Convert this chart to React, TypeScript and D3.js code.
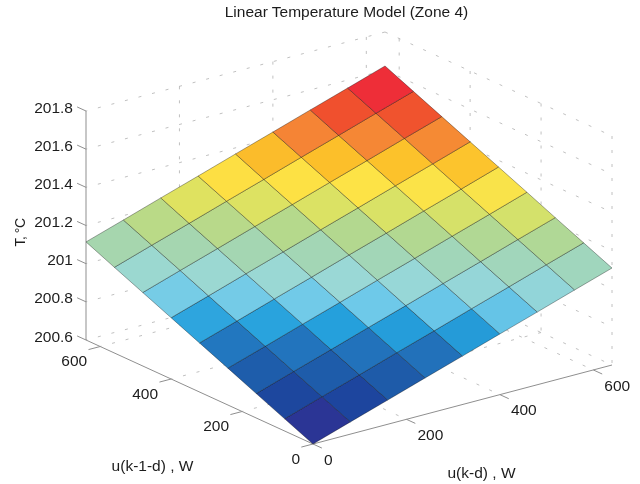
import React from 'react';
import * as d3 from 'd3';

const WIDTH = 640;
const HEIGHT = 484;

const title = 'Linear Temperature Model (Zone 4)';
const xLabel = 'u(k-d) , W';
const yLabel = 'u(k-1-d) , W';
const zLabel = 'T, °C';

const xTicks = [0, 200, 400, 600];
const yTicks = [0, 200, 400, 600];
const zTicks = [200.6, 200.8, 201, 201.2, 201.4, 201.6, 201.8];
const xMax = 640;
const yMax = 640;

// surface grid, both inputs
const gridX = [0, 80, 160, 240, 320, 400, 480, 560, 640];
const gridY = [0, 80, 160, 240, 320, 400, 480, 560, 640];

// temperature at each grid node, one row per gridY value
const surfaceZ = [
  [200.600, 200.664, 200.727, 200.791, 200.854, 200.918, 200.981, 201.045, 201.108],
  [200.664, 200.728, 200.791, 200.855, 200.918, 200.982, 201.045, 201.109, 201.172],
  [200.728, 200.792, 200.855, 200.919, 200.982, 201.046, 201.109, 201.173, 201.236],
  [200.793, 200.856, 200.920, 200.983, 201.047, 201.110, 201.174, 201.237, 201.301],
  [200.857, 200.920, 200.984, 201.047, 201.111, 201.174, 201.238, 201.301, 201.365],
  [200.921, 200.984, 201.048, 201.111, 201.175, 201.238, 201.302, 201.365, 201.429],
  [200.985, 201.049, 201.112, 201.176, 201.239, 201.303, 201.366, 201.430, 201.493],
  [201.049, 201.113, 201.176, 201.240, 201.303, 201.367, 201.430, 201.494, 201.557],
  [201.114, 201.177, 201.241, 201.304, 201.368, 201.431, 201.495, 201.558, 201.622],
];

// colour position of each facet
const facetLevel = [
  [0.00, 0.97, 1.94, 2.91, 3.88, 4.85, 5.82, 6.79],
  [1.03, 2.00, 2.97, 3.94, 4.91, 5.88, 6.85, 7.82],
  [2.06, 3.03, 4.00, 4.97, 5.94, 6.91, 7.88, 8.85],
  [3.09, 4.06, 5.03, 6.00, 6.97, 7.94, 8.91, 9.88],
  [4.12, 5.09, 6.06, 7.03, 8.00, 8.97, 9.94, 10.91],
  [5.15, 6.12, 7.09, 8.06, 9.03, 10.00, 10.97, 11.94],
  [6.18, 7.15, 8.12, 9.09, 10.06, 11.03, 12.00, 12.97],
  [7.21, 8.18, 9.15, 10.12, 11.09, 12.06, 13.03, 14.00],
];

const palette = [
  '#2b3595', '#1d469e', '#1e5caa', '#2273bc', '#25a0dc',
  '#70cae9', '#9ad8d6', '#a2d6b6', '#b3d88f', '#dae265',
  '#fde346', '#fcc12a', '#f58735', '#f0512e', '#ee2e38',
];

const color = d3.scaleLinear<string>()
  .domain(palette.map((_, i) => i))
  .range(palette)
  .interpolate(d3.interpolateRgb);

// oblique view: each data axis adds its own screen offset
const originX = 313;
const originY = 444;
const xToSx = d3.scaleLinear().domain([0, xMax]).range([0, 299]);
const xToSy = d3.scaleLinear().domain([0, xMax]).range([0, -79]);
const yToSx = d3.scaleLinear().domain([0, yMax]).range([0, -227]);
const yToSy = d3.scaleLinear().domain([0, yMax]).range([0, -104]);
const zToSy = d3.scaleLinear().domain([200.6, 201.8]).range([0, -229]);

const zMin = zTicks[0];
const zTop = zTicks[zTicks.length - 1];

const project = (x: number, y: number, z: number): [number, number] => [
  originX + xToSx(x) + yToSx(y),
  originY + xToSy(x) + yToSy(y) + zToSy(z),
];

const TICK_LEN = 25; // data units
const AXIS_COLOR = '#8f8f8f';
const TEXT_COLOR = '#1c1c1c';
const FONT = '"Liberation Sans", Arial, Helvetica, sans-serif';

const Seg = ({ a, b, ...rest }: any) => (
  <line x1={a[0]} y1={a[1]} x2={b[0]} y2={b[1]} {...rest} />
);

const App = () => {
  // dashed box grid, all drawn from the back corner outwards
  const gridLines: [number, number, number][][] = [];
  zTicks.forEach(z => {
    gridLines.push([[xMax, yMax, z], [0, yMax, z]]);
    gridLines.push([[xMax, yMax, z], [xMax, 0, z]]);
  });
  xTicks.slice(1).forEach(x => {
    gridLines.push([[x, yMax, zTop], [x, yMax, zMin]]);
    gridLines.push([[x, yMax, zMin], [x, 0, zMin]]);
  });
  yTicks.slice(1).forEach(y => {
    gridLines.push([[xMax, y, zTop], [xMax, y, zMin]]);
    gridLines.push([[xMax, y, zMin], [0, y, zMin]]);
  });
  gridLines.push([[xMax, 0, zTop], [xMax, 0, zMin]]);

  const line = d3.line();

  const facets = facetLevel.flatMap((row, j) =>
    row.map((level, i) => ({
      key: `${i}-${j}`,
      level,
      d: line([
        project(gridX[i], gridY[j], surfaceZ[j][i]),
        project(gridX[i + 1], gridY[j], surfaceZ[j][i + 1]),
        project(gridX[i + 1], gridY[j + 1], surfaceZ[j + 1][i + 1]),
        project(gridX[i], gridY[j + 1], surfaceZ[j + 1][i]),
      ]) + 'Z',
    }))
  );

  return (
    <svg
      width={WIDTH}
      height={HEIGHT}
      style={{ position: 'absolute', left: 0, top: 0, background: '#fff', filter: 'blur(0.35px)' }}
      fontFamily={FONT}
      fontSize={15.5}
      fill={TEXT_COLOR}
    >
      <text x={346.5} y={17} textAnchor="middle">{title}</text>

      <g stroke="#b0b0b0" strokeWidth={0.8} strokeDasharray="3 11" fill="none">
        {gridLines.map((l, i) => (
          <Seg key={i} a={project(...l[0])} b={project(...l[1])} />
        ))}
      </g>

      {/* axes */}
      <g stroke={AXIS_COLOR} strokeWidth={1} fill="none">
        <Seg a={project(0, 0, zMin)} b={project(xMax, 0, zMin)} />
        <Seg a={project(0, 0, zMin)} b={project(0, yMax, zMin)} />
        <Seg a={project(0, yMax, zMin)} b={project(0, yMax, zTop)} />
        {xTicks.map(x => (
          <Seg key={x} a={project(x, 0, zMin)} b={project(x, -TICK_LEN, zMin)} />
        ))}
        {yTicks.map(y => (
          <Seg key={y} a={project(0, y, zMin)} b={project(-TICK_LEN, y, zMin)} />
        ))}
        {zTicks.map(z => (
          <Seg key={z} a={project(0, yMax, z)} b={project(0, yMax + TICK_LEN, z)} />
        ))}
      </g>

      {/* surface */}
      <g stroke="#000" strokeOpacity={0.42} strokeWidth={0.8} strokeLinejoin="round">
        {facets.map(f => (
          <path key={f.key} d={f.d} fill={color(f.level)} />
        ))}
      </g>

      {/* tick labels */}
      {zTicks.map(z => {
        const [sx, sy] = project(0, yMax, z);
        return (
          <text key={z} x={sx - 13} y={sy + 1.5} textAnchor="end">{z}</text>
        );
      })}
      {xTicks.map(x => {
        const [sx, sy] = project(x, 0, zMin);
        return (
          <text key={x} x={sx + 11} y={sy + 20.8}>{x}</text>
        );
      })}
      {yTicks.map(y => {
        const [sx, sy] = project(0, y, zMin);
        return (
          <text key={y} x={sx - 13} y={sy + 19.5} textAnchor="end">{y}</text>
        );
      })}

      {/* axis labels */}
      <text x={481.5} y={477.5} textAnchor="middle">{xLabel}</text>
      <text x={152.5} y={470.5} textAnchor="middle">{yLabel}</text>
      <text
        transform="translate(25,232.5) rotate(-90)"
        textAnchor="middle"
        fontSize={14}
        letterSpacing={-0.5}
      >
        {zLabel}
      </text>
    </svg>
  );
};

export default App;
